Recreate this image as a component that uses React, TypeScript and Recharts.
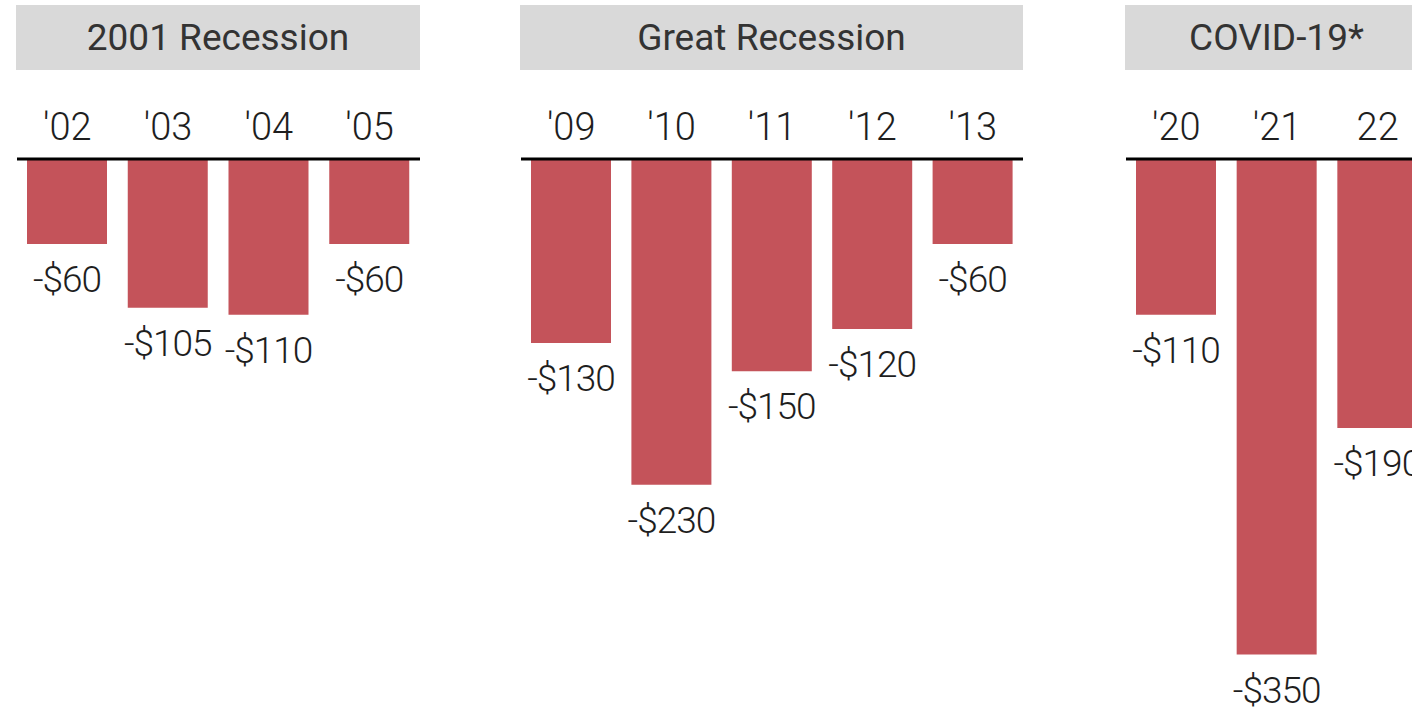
import { BarChart, Bar, XAxis, YAxis, LabelList } from "recharts";

const panelTitles = ["2001 Recession", "Great Recession", "COVID-19*"];

const years2001 = ["'02", "'03", "'04", "'05"];
const values2001 = [-60, -105, -110, -60];

const yearsGreat = ["'09", "'10", "'11", "'12", "'13"];
const valuesGreat = [-130, -230, -150, -120, -60];

const yearsCovid = ["'20", "'21", "22"];
const valuesCovid = [-110, -350, -190];

const BAR_COLOR = "#c4535a";
const CHART_H = 709;
const AXIS_Y = 159;
const Y_MIN = -380;

const fmt = (v: number) => `-$${Math.abs(v)}`;

function ValueLabel(props: any) {
  const { x, y, width, height, value } = props;
  const bottom = Math.max(y, y + height);
  return (
    <text
      x={x + width / 2}
      y={bottom + 48}
      textAnchor="middle"
      fontFamily="Roboto"
      fontWeight={300}
      fontSize={37}
      letterSpacing={-1}
      fill="#1e1e1e"
    >
      {fmt(value)}
    </text>
  );
}

function YearTick(props: any) {
  const { x, y, payload } = props;
  return (
    <text
      x={x}
      y={y}
      textAnchor="middle"
      fontFamily="Roboto"
      fontWeight={300}
      fontSize={38}
      fill="#1e1e1e"
    >
      {payload.value}
    </text>
  );
}

function Panel({
  title,
  years,
  values,
  left,
  width,
}: {
  title: string;
  years: string[];
  values: number[];
  left: number;
  width: number;
}) {
  const data = years.map((year, i) => ({ year, value: values[i] }));
  return (
    <div style={{ position: "absolute", left, top: 0, width, height: CHART_H }}>
      <div
        style={{
          position: "absolute",
          left: -1,
          top: 5,
          width: width + 1,
          height: 65,
          background: "#d9d9d9",
          display: "flex",
          alignItems: "center",
          justifyContent: "center",
          fontFamily: "Roboto",
          fontSize: 37,
          color: "#333",
        }}
      >
        {title}
      </div>
      <BarChart
        width={width}
        height={CHART_H}
        data={data}
        margin={{ top: 0, right: 0, bottom: CHART_H - AXIS_Y - 538, left: 0 }}
        style={{ position: "absolute", left: 0, top: 0 }}
      >
        <XAxis
          dataKey="year"
          orientation="top"
          height={AXIS_Y}
          axisLine={{ stroke: "#000", strokeWidth: 3 }}
          tickLine={false}
          tickSize={0}
          tickMargin={19}
          tick={<YearTick />}
          interval={0}
        />
        <YAxis hide domain={[Y_MIN, 0]} />
        <Bar dataKey="value" fill={BAR_COLOR} barSize={80} isAnimationActive={false}>
          <LabelList dataKey="value" content={<ValueLabel />} />
        </Bar>
      </BarChart>
    </div>
  );
}

export default function App() {
  return (
    <div
      style={{
        position: "absolute",
        left: 0,
        top: 0,
        width: 1412,
        height: 709,
        overflow: "hidden",
        background: "#fff",
      }}
    >
      <Panel title={panelTitles[0]} years={years2001} values={values2001} left={17} width={403} />
      <Panel title={panelTitles[1]} years={yearsGreat} values={valuesGreat} left={521} width={502} />
      <Panel title={panelTitles[2]} years={yearsCovid} values={valuesCovid} left={1126} width={302} />
    </div>
  );
}
